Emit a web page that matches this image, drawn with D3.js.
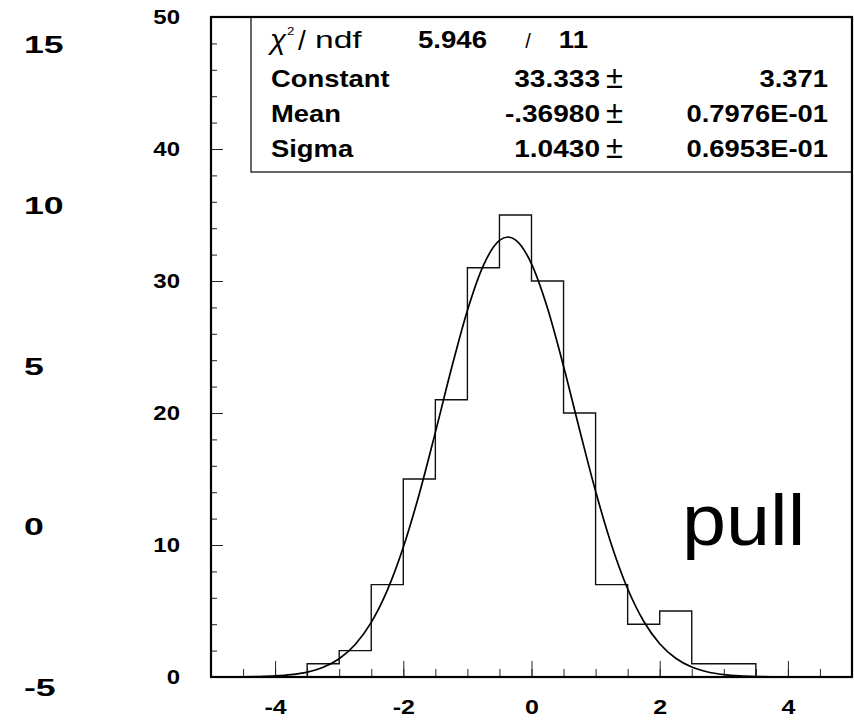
<!DOCTYPE html>
<html>
<head>
<meta charset="utf-8">
<script src="https://cdn.jsdelivr.net/npm/d3@7"></script>
<style>
  html, body { margin: 0; padding: 0; background: #fff; }
  svg { display: block; }
</style>
</head>
<body>
<svg id="chart" width="854" height="723"></svg>
<script>
// histogram of pulls, bin width 0.5
const binLow = [-5, -4.5, -4, -3.5, -3, -2.5, -2, -1.5, -1, -0.5, 0, 0.5, 1, 1.5, 2, 2.5, 3, 3.5, 4, 4.5];
const counts = [0, 0, 0, 1, 2, 7, 15, 21, 31, 35, 30, 20, 7, 4, 5, 1, 1, 0, 0, 0];

// gaussian fit curve
const fitX = [-4.65, -4.5, -4.25, -4, -3.75, -3.5, -3.25, -3, -2.75, -2.5, -2.25, -2, -1.75, -1.5, -1.25, -1, -0.75, -0.5, -0.37,
  -0.25, 0, 0.25, 0.5, 0.75, 1, 1.25, 1.5, 1.75, 2, 2.25, 2.5, 2.75, 3, 3.25, 3.5, 3.75, 3.9];
const fitY = [0.007, 0.013, 0.033, 0.078, 0.174, 0.369, 0.737, 1.386, 2.466, 4.140, 6.565, 9.827, 13.888, 18.532, 23.346, 27.773, 31.191, 33.074, 33.333,
  33.114, 31.302, 27.938, 23.544, 18.733, 14.073, 9.981, 6.683, 4.225, 2.522, 1.422, 0.757, 0.380, 0.180, 0.081, 0.034, 0.014, 0.008];

const xTicks = [-4, -2, 0, 2, 4];
const yTicks = [0, 10, 20, 30, 40, 50];
const strayTicks = [15, 10, 5, 0, -5]; // leftover labels at the far left

// fit statistics box
const chi2 = '5.946';
const ndf = '11';
const statNames = ['Constant', 'Mean', 'Sigma'];
const statValues = ['33.333', '-.36980', '1.0430'];
const statErrors = ['3.371', '0.7976E-01', '0.6953E-01'];

const FONT = '"Liberation Sans", Arial, Helvetica, sans-serif';
const svg = d3.select('#chart');

const x = d3.scaleLinear().domain([-5, 5]).range([211, 852]);
const y = d3.scaleLinear().domain([0, 50]).range([677, 17]);
const yStray = d3.scaleLinear().domain([-5, 15]).range([688, 45]);

// stretched text helper (PAW fonts are wider than Helvetica)
function txt(px, py, str, o = {}) {
  return svg.append('text')
    .attr('transform', `translate(${px},${py}) scale(${o.sx || 1},1)`)
    .attr('font-family', FONT)
    .attr('font-size', o.size || 23)
    .attr('font-weight', o.weight || 'bold')
    .attr('text-anchor', o.anchor || 'start')
    .attr('fill', '#000')
    .text(str);
}

const plain = d => String(d); // hyphen minus, like the original

// minor / major ticks
const xMinor = svg.append('g').attr('transform', `translate(0,${y(0)})`)
  .call(d3.axisBottom(x).tickValues(d3.range(-4.5, 5, 0.5)).tickSize(-8).tickFormat(''));
const xMajor = svg.append('g').attr('transform', `translate(0,${y(0)})`)
  .call(d3.axisBottom(x).tickValues(xTicks).tickSize(-16).tickPadding(23).tickFormat(plain));
const yMinor = svg.append('g').attr('transform', `translate(${x(-5)},0)`)
  .call(d3.axisLeft(y).tickValues(d3.range(2, 50, 2)).tickSize(-6).tickFormat(''));
const yMajor = svg.append('g').attr('transform', `translate(${x(-5)},0)`)
  .call(d3.axisLeft(y).tickValues(yTicks).tickSize(-12).tickPadding(31).tickFormat(plain));

[xMinor, xMajor, yMinor, yMajor].forEach(g => {
  g.select('.domain').remove();
  g.selectAll('.tick line').attr('stroke', '#222').attr('stroke-width', 1);
  g.attr('font-family', FONT).attr('font-size', 20).attr('font-weight', 'bold');
});
xMajor.selectAll('.tick text').attr('transform', 'scale(1.25,1)').attr('fill', '#000');
yMajor.selectAll('.tick text').attr('x', -31 / 1.2).attr('transform', 'scale(1.2,1)').attr('fill', '#000');

// histogram outline
const histPts = binLow.map((b, i) => [b, counts[i]]);
histPts.push([5, counts[counts.length - 1]]);
svg.append('path')
  .attr('d', d3.line().x(d => x(d[0])).y(d => y(d[1])).curve(d3.curveStepAfter)(histPts))
  .attr('fill', 'none')
  .attr('stroke', '#111')
  .attr('stroke-width', 1.4);

// fit curve
svg.append('path')
  .datum(fitX.map((v, i) => [v, fitY[i]]))
  .attr('d', d3.line().x(d => x(d[0])).y(d => y(d[1])).curve(d3.curveMonotoneX))
  .attr('fill', 'none')
  .attr('stroke', '#000')
  .attr('stroke-width', 1.7);

// stats box
svg.append('rect')
  .attr('x', 251).attr('y', y(50))
  .attr('width', x(5) - 251).attr('height', 172 - y(50))
  .attr('fill', '#fff').attr('stroke', '#000').attr('stroke-width', 1.2);

// frame
svg.append('rect')
  .attr('x', x(-5)).attr('y', y(50))
  .attr('width', x(5) - x(-5)).attr('height', y(0) - y(50))
  .attr('fill', 'none').attr('stroke', '#000').attr('stroke-width', 2.2);

// stats text
txt(270, 49, 'χ', { size: 28, weight: 'normal', sx: 1.05 }).attr('font-style', 'italic');
txt(287, 35, '2', { size: 11, weight: 'normal', sx: 1.2 });
txt(298, 50, '/', { size: 28, weight: 'normal', sx: 1.0 });
txt(315, 48, 'ndf', { size: 24, weight: 'normal', sx: 1.4 });
txt(487, 48, chi2, { anchor: 'end', sx: 1.2 });
txt(528, 48, '/', { size: 20, weight: 'normal', anchor: 'middle' });
txt(588, 48, ndf, { anchor: 'end', sx: 1.2 });

const rowY = [87, 122, 157];
statNames.forEach((n, i) => {
  txt(271, rowY[i], n, { sx: 1.19 });
  txt(600, rowY[i], statValues[i], { anchor: 'end', sx: 1.22 });
  txt(623, rowY[i] + 1, '±', { anchor: 'end', size: 31, weight: 'normal', sx: 1.0 });
  txt(828, rowY[i], statErrors[i], { anchor: 'end', sx: 1.19 });
});

// stray labels on the left
strayTicks.forEach(v => {
  txt(24, yStray(v) + 0.358 * 23, String(v), { size: 23, sx: 1.55 });
});

// big "pull" annotation
txt(682, 545, 'pull', { size: 73, weight: 'normal', sx: 1.085 });
</script>
</body>
</html>
